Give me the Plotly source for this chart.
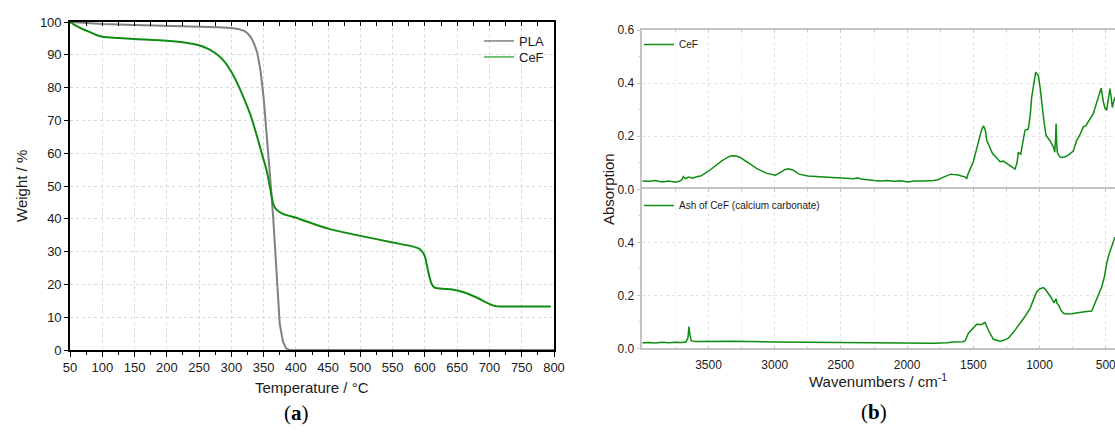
import plotly.graph_objects as go

# ---------------- data ----------------
# (a) TGA
pla_temp = [50, 100, 150, 200, 250, 280, 300, 310, 320, 325, 330, 335, 340, 345, 350, 355, 360, 365, 370, 375, 380, 385, 390, 800]
pla_weight = [100, 99.4, 99.1, 98.9, 98.6, 98.4, 98.2, 97.9, 97.3, 96.6, 95.4, 93.5, 90.8, 85.5, 77, 63.5, 53, 40, 23, 8, 2.5, 0.5, 0, 0]

cef_temp = [50, 60, 70, 80, 90, 100, 125, 150, 200, 230, 250, 265, 280, 290, 300, 310, 320, 330, 340, 350, 355, 360, 365,
            370, 380, 400, 450, 500, 550, 580, 590, 595, 600, 605, 610, 615, 620, 640, 660, 680, 695, 705, 712, 720, 795]
cef_weight = [100, 98.8, 97.8, 97.0, 96.1, 95.5, 95.1, 94.8, 94.3, 93.7, 92.9, 91.7, 89.8, 87.8, 84.8, 81.0, 76.5, 71.5, 65.0,
              58.0, 54.5, 49.5, 44.5, 42.8, 41.5, 40.3, 37.0, 34.8, 32.8, 31.6, 31.0, 30.2, 28.5, 24.0, 20.3, 19.0, 18.8, 18.5,
              17.6, 16.0, 14.5, 13.6, 13.3, 13.3, 13.3]

# (b) FTIR, CeF
wn_cef = [4000, 3950, 3900, 3850, 3800, 3750, 3720, 3700, 3690, 3675, 3650, 3620, 3590, 3560, 3500, 3450, 3400, 3350, 3325,
          3290, 3262, 3200, 3135, 3060, 2995, 2960, 2920, 2895, 2860, 2818, 2750, 2630, 2500, 2400, 2374, 2350, 2249, 2200,
          2150, 2100, 2050, 1993, 1950, 1900, 1866, 1800, 1765, 1730, 1700, 1670, 1651, 1620, 1590, 1563, 1550, 1538, 1500,
          1462, 1440, 1424, 1410, 1399, 1374, 1355, 1336, 1315, 1298, 1273, 1250, 1223, 1185, 1170, 1160, 1142, 1125, 1110,
          1085, 1070, 1059, 1045, 1029, 1015, 1009, 995, 983, 965, 951, 921, 896, 885, 878, 875, 871, 866, 851, 840, 810, 783,
          745, 719, 700, 669, 650, 631, 594, 563, 545, 535, 518, 505, 493, 480, 468, 460, 450, 440, 430]
abs_cef = [0.031, 0.030, 0.033, 0.028, 0.031, 0.027, 0.030, 0.036, 0.048, 0.040, 0.046, 0.042, 0.047, 0.050, 0.068, 0.088,
           0.107, 0.122, 0.126, 0.125, 0.120, 0.100, 0.078, 0.060, 0.053, 0.063, 0.075, 0.077, 0.072, 0.057, 0.050, 0.046,
           0.043, 0.040, 0.043, 0.039, 0.033, 0.031, 0.033, 0.030, 0.032, 0.028, 0.031, 0.030, 0.031, 0.033, 0.036, 0.045,
           0.050, 0.057, 0.056, 0.055, 0.050, 0.047, 0.040, 0.060, 0.104, 0.185, 0.220, 0.239, 0.225, 0.185, 0.154, 0.135,
           0.125, 0.115, 0.104, 0.106, 0.098, 0.089, 0.076, 0.100, 0.139, 0.132, 0.180, 0.222, 0.227, 0.280, 0.347, 0.400,
           0.441, 0.432, 0.429, 0.380, 0.323, 0.250, 0.204, 0.183, 0.160, 0.140, 0.200, 0.248, 0.180, 0.140, 0.125, 0.120,
           0.122, 0.129, 0.144, 0.185, 0.200, 0.235, 0.240, 0.254, 0.285, 0.335, 0.365, 0.381, 0.329, 0.305, 0.298, 0.340,
           0.379, 0.350, 0.308, 0.330, 0.347]

# (b) FTIR, ash of CeF
wn_ash = [4000, 3950, 3900, 3850, 3800, 3750, 3700, 3670, 3655, 3648, 3640, 3630, 3600, 3400, 3300, 3000, 2800, 2500, 2200,
          2000, 1800, 1700, 1651, 1576, 1560, 1538, 1500, 1475, 1450, 1437, 1412, 1387, 1349, 1298, 1270, 1235, 1190, 1147,
          1110, 1072, 1040, 1022, 1000, 971, 955, 934, 910, 891, 880, 875, 868, 856, 840, 820, 790, 756, 700, 669, 630, 606,
          590, 568, 550, 530, 510, 493, 475, 455, 430]
abs_ash = [0.021, 0.022, 0.020, 0.023, 0.021, 0.023, 0.022, 0.024, 0.040, 0.082, 0.050, 0.028, 0.026, 0.027, 0.027, 0.024,
           0.023, 0.021, 0.019, 0.018, 0.019, 0.021, 0.024, 0.025, 0.030, 0.056, 0.075, 0.091, 0.090, 0.090, 0.098, 0.069,
           0.034, 0.027, 0.030, 0.038, 0.065, 0.094, 0.120, 0.150, 0.190, 0.213, 0.224, 0.229, 0.222, 0.207, 0.190, 0.171,
           0.185, 0.187, 0.170, 0.163, 0.145, 0.132, 0.129, 0.130, 0.135, 0.138, 0.140, 0.141, 0.160, 0.182, 0.210, 0.232,
           0.270, 0.320, 0.355, 0.388, 0.420]

temp_ticks = list(range(50, 801, 50))
weight_ticks = list(range(0, 101, 10))
wn_ticks = [3500, 3000, 2500, 2000, 1500, 1000, 500]
wn_minor = [3750, 3250, 2750, 2250, 1750, 1250, 750]
abs_ticks_top = [0.0, 0.2, 0.4, 0.6]
abs_ticks_bottom = [0.0, 0.2, 0.4]

# ---------------- style ----------------
W, H = 1115, 432
FONT = "Liberation Sans"
GREEN = "#0f8c12"
GRAY = "#808080"
RGRAY = "#c4c4c4"
GRID = "#d9d9d9"


def fx(p):
    return p / W


def fy(p):
    return 1 - p / H


fig = go.Figure()
fig.add_trace(go.Scatter(x=pla_temp, y=pla_weight, mode="lines", line=dict(color=GRAY, width=2),
                         showlegend=False, xaxis="x", yaxis="y", hoverinfo="skip"))
fig.add_trace(go.Scatter(x=cef_temp, y=cef_weight, mode="lines",
                         line=dict(color=GREEN, width=2, shape="spline", smoothing=0.5),
                         showlegend=False, xaxis="x", yaxis="y", hoverinfo="skip"))
fig.add_trace(go.Scatter(x=[None], y=[None], mode="lines", name="PLA", line=dict(color=GRAY, width=1.5),
                         xaxis="x", yaxis="y", legend="legend"))
fig.add_trace(go.Scatter(x=[None], y=[None], mode="lines", name="CeF", line=dict(color="#4caf50", width=1.5),
                         xaxis="x", yaxis="y", legend="legend4"))
fig.add_trace(go.Scatter(x=[None], y=[None], mode="lines", showlegend=False, xaxis="x4", yaxis="y"))

fig.add_trace(go.Scatter(x=wn_cef, y=abs_cef, mode="lines", name="CeF", line=dict(color=GREEN, width=1.5),
                         xaxis="x2", yaxis="y2", legend="legend2"))
fig.add_trace(go.Scatter(x=wn_ash, y=abs_ash, mode="lines", name="Ash of CeF (calcium carbonate)",
                         line=dict(color=GREEN, width=1.5), xaxis="x3", yaxis="y3", legend="legend3"))

left_dom = [fx(70), fx(554)]
right_dom = [fx(642.3), 1.0]

leg_common = dict(xanchor="left", yanchor="top", bgcolor="rgba(0,0,0,0)", itemwidth=30, tracegroupgap=0)

fig.update_layout(
    width=W, height=H, margin=dict(l=0, r=0, t=0, b=0, autoexpand=False),
    paper_bgcolor="white", plot_bgcolor="white",
    font=dict(family=FONT, color="#1a1a1a", size=13),
    xaxis=dict(domain=left_dom, range=[50, 800], anchor="y", tickmode="array", tickvals=temp_ticks,
               ticks="outside", ticklen=5, tickwidth=1.2, tickcolor="black", automargin=False,
               minor=dict(tickvals=list(range(75, 800, 50)), ticks="outside", ticklen=3, tickcolor="black", showgrid=False),
               showline=True, linecolor="black", linewidth=1.6, mirror=True,
               showgrid=True, gridcolor=GRID, griddash="dot", gridwidth=1, zeroline=False,
               tickfont=dict(size=13, family=FONT, color="#1a1a1a")),
    xaxis4=dict(overlaying="x", side="top", anchor="y", range=[50, 800], tickmode="linear", tick0=50, dtick=25,
                ticks="inside", ticklen=4, tickcolor="black", tickwidth=1.2, showticklabels=False, automargin=False,
                showgrid=False, zeroline=False, showline=False),
    yaxis=dict(domain=[fy(350), fy(22)], range=[0, 100], anchor="x", tickmode="array", tickvals=weight_ticks,
               ticks="outside", ticklen=4, tickwidth=1.2, tickcolor="black", automargin=False,
               showline=True, linecolor="black", linewidth=1.6, mirror=True,
               showgrid=True, gridcolor=GRID, griddash="dot", gridwidth=1, zeroline=False,
               tickfont=dict(size=13, family=FONT, color="#1a1a1a")),
    xaxis2=dict(domain=right_dom, range=[4000, 430], anchor="y2", side="top", tickmode="array", tickvals=wn_ticks,
                showticklabels=False, ticks="inside", ticklen=3, tickcolor=RGRAY, automargin=False,
                minor=dict(tickvals=wn_minor, ticks="inside", ticklen=2, tickcolor=RGRAY, showgrid=True,
                           gridcolor="#eeeeee", griddash="dot"),
                showline=True, linecolor=RGRAY, linewidth=1.5, mirror=False,
                showgrid=True, gridcolor="#e2e2e2", griddash="dot", zeroline=False),
    xaxis3=dict(domain=right_dom, range=[4000, 430], anchor="y3", matches="x2", tickmode="array", tickvals=wn_ticks,
                ticks="inside", ticklen=3, tickcolor=RGRAY, ticklabelstandoff=5, automargin=False,
                ticklabeloverflow="allow",
                minor=dict(tickvals=wn_minor, ticks="inside", ticklen=2, tickcolor=RGRAY, showgrid=True,
                           gridcolor="#eeeeee", griddash="dot"),
                showline=True, linecolor=RGRAY, linewidth=1.5, mirror="ticks",
                showgrid=True, gridcolor="#e2e2e2", griddash="dot", zeroline=False,
                tickfont=dict(size=12, family=FONT, color="#1a1a1a")),
    yaxis2=dict(domain=[fy(189.3), fy(30)], range=[0, 0.6], anchor="x2", tickmode="array", tickvals=abs_ticks_top,
                tickformat=".1f", ticks="outside", ticklen=4, tickcolor=RGRAY, automargin=False,
                minor=dict(tickvals=[0.1, 0.3, 0.5], ticks="outside", ticklen=2, tickcolor=RGRAY),
                showline=True, linecolor=RGRAY, linewidth=1.5,
                showgrid=True, gridcolor="#e2e2e2", griddash="dot", zeroline=False,
                tickfont=dict(size=12, family=FONT, color="#1a1a1a")),
    yaxis3=dict(domain=[fy(348.3), fy(189.3)], range=[0, 0.6], anchor="x3", tickmode="array", tickvals=abs_ticks_bottom,
                tickformat=".1f", ticks="outside", ticklen=4, tickcolor=RGRAY, automargin=False,
                minor=dict(tickvals=[0.1, 0.3, 0.5], ticks="outside", ticklen=2, tickcolor=RGRAY),
                showline=True, linecolor=RGRAY, linewidth=1.5,
                showgrid=True, gridcolor="#e2e2e2", griddash="dot", zeroline=False,
                tickfont=dict(size=12, family=FONT, color="#1a1a1a")),
    legend=dict(x=fx(479), y=fy(26), font=dict(size=13, family=FONT, color="#1a1a1a"), **leg_common),
    legend4=dict(x=fx(479), y=fy(42), font=dict(size=13, family=FONT, color="#1a1a1a"), **leg_common),
    legend2=dict(x=fx(639), y=fy(30), font=dict(size=10, family=FONT, color="#1a1a1a"), **leg_common),
    legend3=dict(x=fx(639), y=fy(191), font=dict(size=10, family=FONT, color="#1a1a1a"), **leg_common),
)

ann = [
    dict(text="Temperature / °C", x=fx(312), y=fy(387), font=dict(size=15)),
    dict(text="Weight / %", x=fx(21), y=fy(186), textangle=-90, font=dict(size=15)),
    dict(text="Wavenumbers / cm<sup>-1</sup>", x=fx(878), y=fy(380), font=dict(size=15)),
    dict(text="Absorption", x=fx(608), y=fy(189), textangle=-90, font=dict(size=15)),
    dict(text="(<b>a</b>)", x=fx(296), y=fy(413), font=dict(size=21, family="Liberation Serif", color="black")),
    dict(text="(<b>b</b>)", x=fx(874), y=fy(412), font=dict(size=21, family="Liberation Serif", color="black")),
]
for a in ann:
    fig.add_annotation(xref="paper", yref="paper", showarrow=False, xanchor="center", yanchor="middle", **a)

fig.write_html("out.html", config={"displayModeBar": False},
               post_script="document.body.style.margin='0';document.body.style.overflow='hidden';")
